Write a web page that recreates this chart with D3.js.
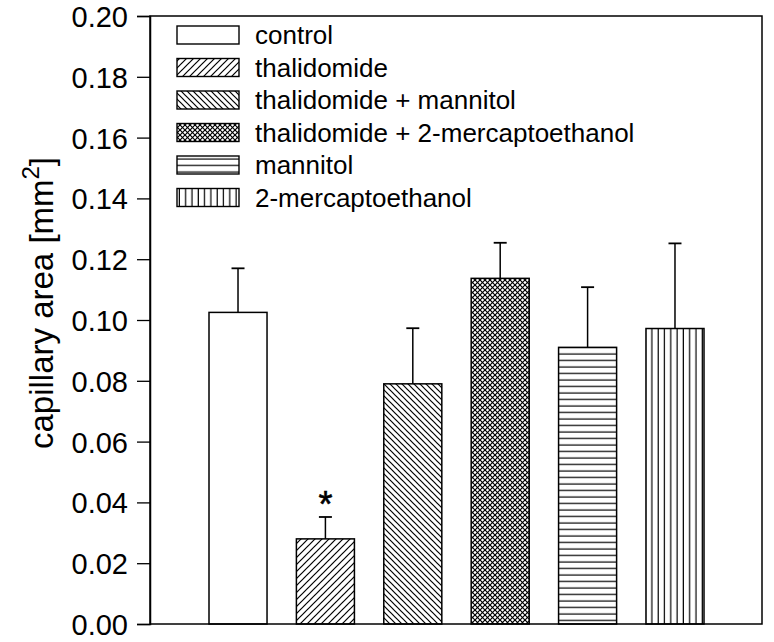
<!DOCTYPE html>
<html><head><meta charset="utf-8">
<script src="https://cdn.jsdelivr.net/npm/d3@7"></script>
<style>body{margin:0;background:#fff;} svg{display:block;}</style>
</head><body>
<svg id="chart" width="774" height="642"></svg>
<script>
const categories = ["control","thalidomide","thalidomide + mannitol","thalidomide + 2-mercaptoethanol","mannitol","2-mercaptoethanol"];
const means = [0.1025, 0.0280, 0.0790, 0.1137, 0.0910, 0.0972];
const errors = [0.0145, 0.0072, 0.0183, 0.0117, 0.0198, 0.0280];
const patterns = ["none","fwd","back","cross","horiz","vert"];
const yTicks = [0,0.02,0.04,0.06,0.08,0.10,0.12,0.14,0.16,0.18,0.20];
const significance = ["","*","","","",""];
const yLabel = "capillary area [mm";

const svg = d3.select("#chart");
const L=150, R=762, T=16, B=624;
const font = "'Liberation Sans', Arial, sans-serif";

const defs = svg.append("defs");
function pat(id, w, h, lines){
  const p = defs.append("pattern").attr("id",id).attr("patternUnits","userSpaceOnUse").attr("width",w).attr("height",h);
  p.append("rect").attr("width",w).attr("height",h).attr("fill","#fff");
  lines.forEach(l=>p.append("line").attr("x1",l[0]).attr("y1",l[1]).attr("x2",l[2]).attr("y2",l[3]).attr("stroke","#000").attr("stroke-width",1.2));
  return p;
}
pat("fwd",7,7,[[0,7,7,0],[-1,1,1,-1],[6,8,8,6]]);
pat("back",6,6,[[0,0,6,6],[-1,5,1,7],[5,-1,7,1]]);
pat("cross",5,5,[[0,0,5,5],[0,5,5,0]]);
pat("horiz",6,6.5,[[0,3,6,3]]);
pat("vert",6.3,6,[[3,0,3,6]]);
const fillOf = p => p==="none" ? "#fff" : `url(#${p})`;

const x = d3.scaleBand().domain(categories).range([209, 704]).paddingInner(0.336).paddingOuter(0);
const y = d3.scaleLinear().domain([0,0.2]).range([B,T]);

// bars
const g = svg.append("g");
g.selectAll("rect.bar").data(categories).join("rect")
  .attr("x",d=>x(d)).attr("width",x.bandwidth())
  .attr("y",(d,i)=>y(means[i])).attr("height",(d,i)=>B-y(means[i]))
  .attr("fill",(d,i)=>fillOf(patterns[i])).attr("stroke","#000").attr("stroke-width",1.5);

// error bars
categories.forEach((c,i)=>{
  const cx = x(c)+x.bandwidth()/2;
  g.append("line").attr("x1",cx).attr("x2",cx).attr("y1",y(means[i])).attr("y2",y(means[i]+errors[i])).attr("stroke","#000").attr("stroke-width",1.5);
  g.append("line").attr("x1",cx-6.5).attr("x2",cx+6.5).attr("y1",y(means[i]+errors[i])).attr("y2",y(means[i]+errors[i])).attr("stroke","#000").attr("stroke-width",1.8);
  if(significance[i]) g.append("text").attr("x",cx).attr("y",y(means[i]+errors[i])).attr("text-anchor","middle")
    .attr("font-family",font).attr("font-size",36).attr("stroke","#000").attr("stroke-width",0.6).text(significance[i]);
});

// frame
svg.append("rect").attr("x",L).attr("y",T).attr("width",R-L).attr("height",B-T).attr("fill","none").attr("stroke","#000").attr("stroke-width",1.5);

// y axis
const ya = svg.append("g").attr("transform",`translate(${L},0)`)
  .call(d3.axisLeft(y).tickValues(yTicks).tickFormat(d3.format(".2f")).tickSize(13).tickPadding(9));
ya.select(".domain").attr("stroke-width",1.5);
ya.selectAll(".tick line").attr("stroke-width",1.3);
ya.selectAll("text").attr("font-family",font).attr("font-size",29).attr("fill","#000").attr("dy","0.36em");

// y label
const yl = svg.append("text").attr("transform","translate(53,303) rotate(-90)").attr("text-anchor","middle")
  .attr("font-family",font).attr("font-size",33);
yl.append("tspan").text(yLabel);
yl.append("tspan").attr("font-size",24).attr("dy",-14).text("2");
yl.append("tspan").attr("dy",14).text("]");

// legend
const lg = svg.append("g");
categories.forEach((c,i)=>{
  const cy = 35 + i*32.5;
  lg.append("rect").attr("x",177).attr("y",cy-9).attr("width",62).attr("height",18)
    .attr("fill",fillOf(patterns[i])).attr("stroke","#000").attr("stroke-width",1.4);
  lg.append("text").attr("x",255).attr("y",cy+9).attr("font-family",font).attr("font-size",26).text(c);
});
</script>
</body></html>
